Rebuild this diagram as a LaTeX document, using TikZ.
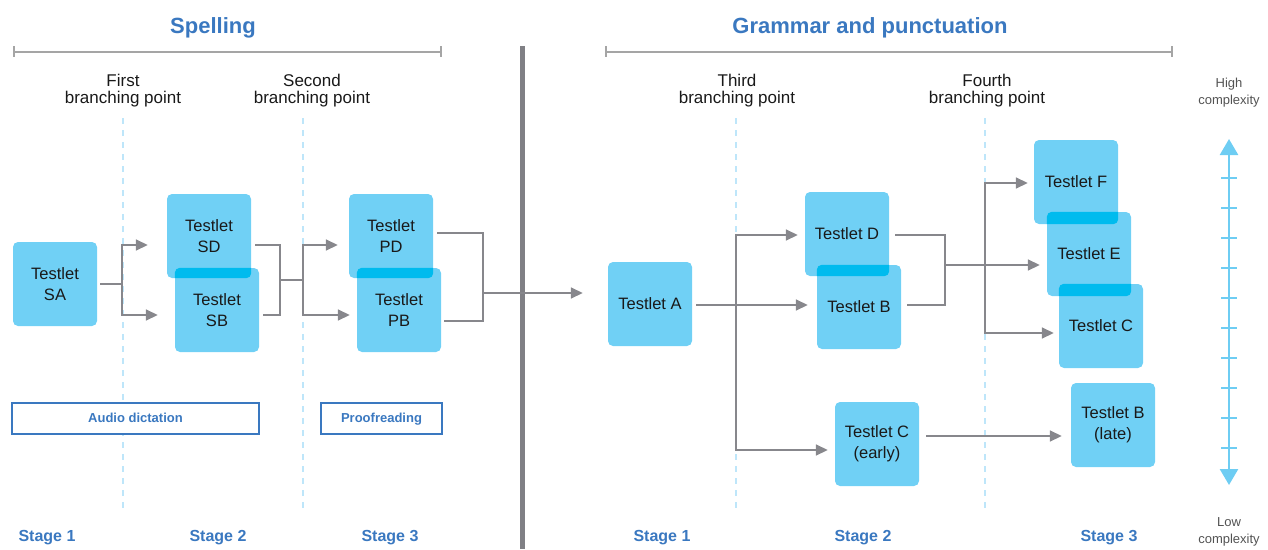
\documentclass[tikz,border=0pt]{standalone}
\usepackage{fontspec}
\setmainfont{Liberation Sans}
\usetikzlibrary{arrows.meta}
\definecolor{boxc}{RGB}{112,208,245}
\definecolor{ovc}{RGB}{0,187,238}
\definecolor{hblue}{RGB}{58,120,192}
\definecolor{conc}{RGB}{135,135,140}
\definecolor{brc}{RGB}{165,165,165}
\definecolor{dashc}{RGB}{190,230,250}
\definecolor{axc}{RGB}{110,205,243}
\definecolor{txt}{RGB}{25,25,25}
\tikzset{
  tbox/.style={fill=boxc, rounded corners=5pt, minimum width=84pt, minimum height=84pt, inner sep=0pt, align=center, text=txt, font=\fontsize{16.5}{21}\selectfont},
  conn/.style={draw=conc, line width=1.6pt},
  arr/.style={conn, -{Triangle[length=12pt,width=11pt]}},
  guide/.style={draw=dashc, line width=1.8pt, dash pattern=on 6pt off 6pt},
  stage/.style={text=hblue, font=\fontsize{16}{18}\selectfont\bfseries},
  header/.style={text=hblue, font=\fontsize{22}{24}\selectfont\bfseries},
  bpoint/.style={text=txt, align=center, font=\fontsize{17}{17}\selectfont},
  skill/.style={draw=hblue, line width=1.6pt, fill=white, text=hblue, inner sep=0pt, text height=10pt, text depth=2.5pt, font=\fontsize{13}{15}\selectfont\bfseries},
  cplx/.style={text=txt!75, align=center, font=\fontsize{13}{17}\selectfont},
  bracket/.style={draw=brc, line width=1.6pt},
}
\begin{document}
\begin{tikzpicture}[x=1pt,y=-1pt]
\useasboundingbox (0,0) rectangle (1268,549);
% headers
\node[header] (hs) at (213,28) {Spelling};
\node[header] (hg) at (870,28) {Grammar and punctuation};
\draw[bracket] (14,46) -- (14,57) (14,52) -- (441,52) (441,46) -- (441,57);
\draw[bracket] (606,46) -- (606,57) (606,52) -- (1172,52) (1172,46) -- (1172,57);
% branching labels
\node[bpoint] (bp1) at (123,91) {First\\branching point};
\node[bpoint] (bp2) at (312,91) {Second\\branching point};
\node[bpoint] (bp3) at (737,91) {Third\\branching point};
\node[bpoint] (bp4) at (987,91) {Fourth\\branching point};
% guides
\coordinate (g1t) at (123,118); \coordinate (g1b) at (123,513);
\coordinate (g2t) at (303,118); \coordinate (g2b) at (303,513);
\coordinate (g3t) at (736,118); \coordinate (g3b) at (736,513);
\coordinate (g4t) at (985,118); \coordinate (g4b) at (985,513);
\draw[guide] (g1t) -- (g1b);
\draw[guide] (g2t) -- (g2b);
\draw[guide] (g3t) -- (g3b);
\draw[guide] (g4t) -- (g4b);
% divider
\draw[draw=conc!95!black, line width=5pt] (522,46) -- (522,549);
% skill boxes
\node[skill, minimum width=247pt, minimum height=31pt] (aud) at (135.5,418.5) {Audio dictation};
\node[skill, minimum width=121pt, minimum height=31pt] (prf) at (381.5,418.5) {Proofreading};
% boxes
\node[tbox] (SA) at (55,284) {Testlet\\SA};
\node[tbox] (SD) at (209,236) {Testlet\\SD};
\node[tbox] (SB) at (217,310) {Testlet\\SB};
\node[tbox] (PD) at (391,236) {Testlet\\PD};
\node[tbox] (PB) at (399,310) {Testlet\\PB};
\node[tbox] (A) at (650,304) {Testlet A};
\node[tbox] (D) at (847,234) {Testlet D};
\node[tbox] (B) at (859,307) {Testlet B};
\node[tbox] (F) at (1076,182) {Testlet F};
\node[tbox] (E) at (1089,254) {Testlet E};
\node[tbox] (C) at (1101,326) {Testlet C};
\node[tbox] (CE) at (877,444) {Testlet C\\(early)};
\node[tbox] (BL) at (1113,425) {Testlet B\\(late)};
% overlaps
\foreach \u/\l in {SD/SB, PD/PB, D/B, F/E, E/C}{
  \begin{scope}
    \clip[rounded corners=5pt] (\u.south west) rectangle (\u.north east);
    \fill[ovc, rounded corners=5pt] (\l.south west) rectangle (\l.north east);
  \end{scope}
}
% connectors: spelling
\coordinate (j1) at (122,284);
\draw[conn] ([xshift=3pt]SA.east) -- (j1);
\draw[arr] (j1) |- ([xshift=-19pt,yshift=-9pt]SD.west);
\draw[arr] (j1) |- ([xshift=-17pt,yshift=-5pt]SB.west);
\coordinate (m1) at (280,280);
\coordinate (j2) at (303,280);
\draw[conn] ([xshift=4pt,yshift=-9pt]SD.east) -| (m1);
\draw[conn] ([xshift=4pt,yshift=-5pt]SB.east) -| (m1);
\draw[conn] (m1) -- (j2);
\draw[arr] (j2) |- ([xshift=-11pt,yshift=-9pt]PD.west);
\draw[arr] (j2) |- ([xshift=-7pt,yshift=-5pt]PB.west);
\coordinate (m2) at (483,293);
\draw[conn] ([xshift=4pt,yshift=3pt]PD.east) -| (m2);
\draw[conn] ([xshift=3pt,yshift=-11pt]PB.east) -| (m2);
\draw[arr] (m2) -- ([xshift=-25pt,yshift=11pt]A.west);
% connectors: grammar
\coordinate (j3) at (736,305);
\draw[arr] ([xshift=4pt,yshift=-1pt]A.east) -- ([xshift=-9pt,yshift=2pt]B.west);
\draw[arr] (j3) |- ([xshift=-7pt,yshift=-1pt]D.west);
\draw[arr] (j3) |- ([xshift=-7pt,yshift=-6pt]CE.west);
\coordinate (m3) at (945,265);
\coordinate (j4) at (985,265);
\draw[conn] ([xshift=6pt,yshift=-1pt]D.east) -| (m3);
\draw[conn] ([xshift=6pt,yshift=2pt]B.east) -| (m3);
\draw[conn] (m3) -- (j4);
\draw[arr] (j4) |- ([xshift=-6pt,yshift=-1pt]F.west);
\draw[arr] (j4) -- ([xshift=-7pt,yshift=-11pt]E.west);
\draw[arr] (j4) |- ([xshift=-5pt,yshift=-7pt]C.west);
\draw[arr] ([xshift=7pt,yshift=8pt]CE.east) -- ([xshift=-9pt,yshift=-11pt]BL.west);
% stage labels
\node[stage] (s1) at (47,538) {Stage 1};
\node[stage] (s2) at (218,538) {Stage 2};
\node[stage] (s3) at (390,538) {Stage 3};
\node[stage] (r1) at (662,538) {Stage 1};
\node[stage] (r2) at (863,538) {Stage 2};
\node[stage] (r3) at (1109,538) {Stage 3};
% complexity axis
\node[cplx] (hi) at (1229,93) {High\\complexity};
\node[cplx] (lo) at (1229,532) {Low\\complexity};
\coordinate (ax1) at (1229,485);
\coordinate (ax2) at (1229,139);
\draw[draw=axc, line width=2.6pt, {Triangle[width=18pt,length=16pt]}-{Triangle[width=18pt,length=16pt]}] (ax1) -- (ax2);
\foreach \k in {0,...,9}{
  \draw[draw=axc, line width=1.2pt] (1221,178+30*\k) -- (1237,178+30*\k);
}
\end{tikzpicture}
\end{document}
